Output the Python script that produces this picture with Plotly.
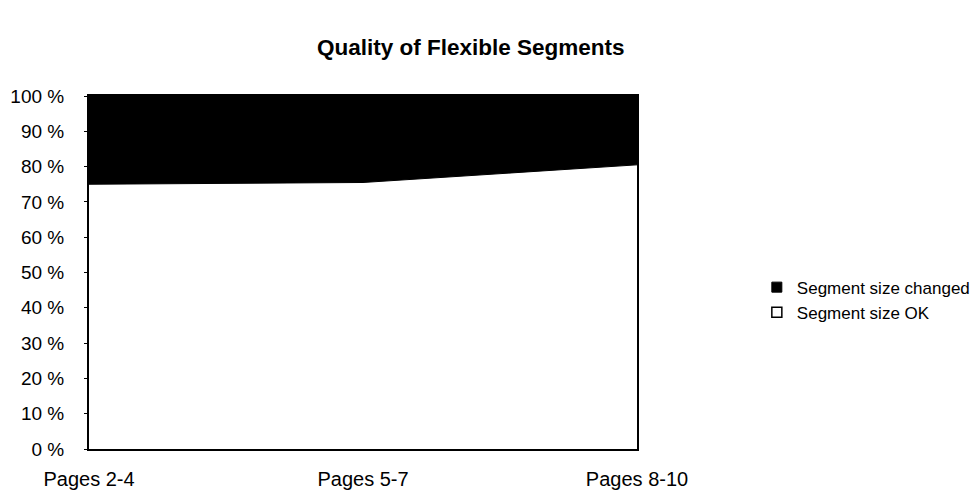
import plotly.graph_objects as go

categories = ["Pages 2-4", "Pages 5-7", "Pages 8-10"]
segment_ok = [75, 75.5, 80.5]
segment_changed = [25, 24.5, 19.5]
y_ticks = [0, 10, 20, 30, 40, 50, 60, 70, 80, 90, 100]
y_tick_labels = [f"{v} %" for v in y_ticks]
series_names = ["Segment size changed", "Segment size OK"]

FONT = "Liberation Sans, Arial, sans-serif"

fig = go.Figure()
fig.add_trace(go.Scatter(
    x=categories, y=segment_ok, name=series_names[1],
    stackgroup="one", mode="lines", showlegend=False,
    line=dict(color="black", width=1), fillcolor="white",
))
fig.add_trace(go.Scatter(
    x=categories, y=segment_changed, name=series_names[0],
    stackgroup="one", mode="lines", showlegend=False,
    line=dict(color="black", width=1), fillcolor="black",
))
# legend entries with square swatches
fig.add_trace(go.Scatter(
    x=[None], y=[None], name=series_names[0], mode="markers",
    marker=dict(symbol="square", size=10, color="black",
                line=dict(color="black", width=1)),
))
fig.add_trace(go.Scatter(
    x=[None], y=[None], name=series_names[1], mode="markers",
    marker=dict(symbol="square", size=10, color="white",
                line=dict(color="black", width=1.5)),
))

fig.update_layout(
    width=970, height=486,
    margin=dict(l=81, r=341, t=88, b=45),
    paper_bgcolor="white", plot_bgcolor="white",
    font=dict(family=FONT, size=19, color="black"),
    title=dict(text="<b>Quality of Flexible Segments</b>", x=0.477, xanchor="center",
               xref="container", yref="container",
               y=0.92, yanchor="middle", font=dict(family=FONT, size=22.5, color="black")),
    showlegend=True,
    legend=dict(xref="container", yref="container",
                x=0.772, y=0.399, xanchor="left", yanchor="middle",
                traceorder="normal",
                font=dict(family=FONT, size=17, color="black"),
                itemwidth=30, tracegroupgap=0, bgcolor="rgba(0,0,0,0)"),
)
fig.update_xaxes(
    type="category", range=[0, 2], showgrid=False, zeroline=False,
    showline=True, linecolor="black", linewidth=2, mirror=True,
    ticks="", tickfont=dict(family=FONT, size=20), ticklabelstandoff=11,
    automargin=False,
)
fig.update_yaxes(
    range=[0, 100], tickvals=y_ticks, ticktext=y_tick_labels,
    showgrid=False, zeroline=False,
    showline=True, linecolor="black", linewidth=2, mirror=True,
    ticks="outside", ticklen=3, tickcolor="black",
    tickfont=dict(family=FONT, size=19), ticklabelstandoff=16,
    automargin=False,
)

fig.write_html("out.html")
